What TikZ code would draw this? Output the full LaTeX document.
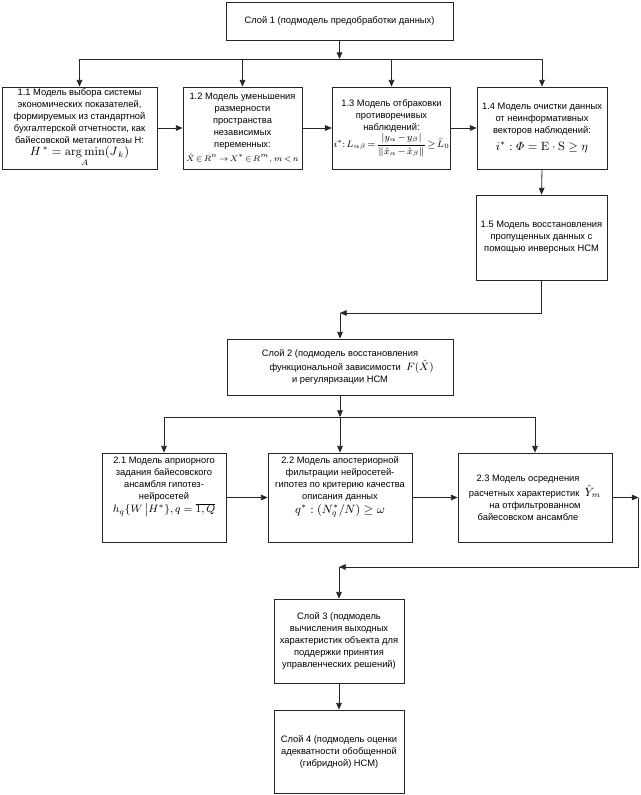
\documentclass[tikz,border=0pt]{standalone}
\usepackage{amsmath}
\usepackage[no-math]{fontspec}
\setmainfont{Liberation Sans}
\usetikzlibrary{arrows.meta}
\tikzset{
  blk/.style={draw=black!85, line width=0.6pt, rectangle, inner sep=1pt, align=center, font=\fontsize{7}{9}\selectfont},
  toptxt/.style={align=center, inner sep=0pt, font=\fontsize{7}{9}\selectfont},
  arr/.style={draw=black!85, line width=0.6pt, -{Triangle[length=5pt,width=4.2pt]}},
  ln/.style={draw=black!85, line width=0.6pt}
}
\newcommand{\fml}[2][8.5]{{\fontsize{#1}{11}\selectfont$#2$}}
\newcommand{\fmltight}[2][7]{{\fontsize{#1}{11}\selectfont\medmuskip=1.5mu\thickmuskip=2mu$#2$}}

\begin{document}
\begin{tikzpicture}[x=0.75pt,y=-0.75pt]
		%%%%% START %%%%%
		\useasboundingbox (0,0) rectangle (640,795);
		
		\node[blk, minimum width=170.25pt, minimum height=28.5pt] (sloi1) at (339.5,21) {Слой 1 (подмодель предобработки данных)};
		
		\node[blk, minimum width=116.25pt, minimum height=61.5pt] (m11) at (79.5,128) {1.1 Модель выбора системы\\экономических показателей,\\формируемых из стандартной\\бухгалтерской отчетности, как\\байесовской метагипотезы Н:\\\fml[9]{H^{\,*}=\mathop{\mathrm{arg\,min}}\limits_{A}(J_{\,k})}};
		\node[blk, minimum width=89.25pt, minimum height=61.5pt] (m12) at (242.5,128) {1.2 Модель уменьшения\\размерности\\пространства\\независимых\\переменных:\\[1pt]\fmltight[6.5]{\hat{X}\in R^{n}\rightarrow X^{*}\in R^{m}, m<n}};
		\node[blk, minimum width=86.25pt, minimum height=61.5pt] (m13) at (391.5,128) {1.3 Модель отбраковки\\противоречивых\\наблюдений:\\\fmltight[7]{i^{*}\!: L_{\alpha\beta}=\dfrac{\left|y_{\alpha}-y_{\beta}\right|}{\left\|\hat{x}_{\alpha}-\hat{x}_{\beta}\right\|}\geq \bar{L}_{0}}};
		\node[blk, minimum width=97.5pt, minimum height=61.5pt] (m14) at (542,128) {1.4 Модель очистки данных\\от неинформативных\\векторов наблюдений:\\[4pt]\fml[9]{i^{*}:\varPhi=\mathrm{E}\cdot\mathrm{S}\geq\eta}};
		\node[blk, minimum width=98.25pt, minimum height=63.75pt] (m15) at (541.5,237.5) {1.5 Модель восстановления\\пропущенных данных с\\помощью инверсных НСМ};
		
		\node[blk, minimum width=169.5pt, minimum height=42pt] (sloi2) at (340,367) {Слой 2 (подмодель восстановления\\\hspace*{2.5em}функциональной зависимости \ \fml{F(\hat{X})}\\и регуляризации НСМ};
		
		\node[blk, minimum width=93pt, minimum height=66.75pt, label={[toptxt, anchor=north, yshift=-3pt]north:{2.1 Модель априорного\\задания байесовского\\ансамбля гипотез-\\нейросетей\\[1pt]\fml[8]{h_{q}\{W\,\big|H^{*}\}, q=\overline{1,Q}}}}] (m21) at (164,497.5) {};
		\node[blk, minimum width=108pt, minimum height=66.75pt, label={[toptxt, anchor=north, yshift=-3pt]north:{2.2 Модель апостериорной\\фильтрации нейросетей-\\гипотез по критерию качества\\описания данных\\[1pt]\fml[9]{q^{*}:(N^{*}_{q}/N)\geq\omega}}}] (m22) at (340,497.5) {};
		\node[blk, minimum width=115.5pt, minimum height=66.75pt] (m23) at (535,497.5) {2.3 Модель осреднения\hspace*{1.5em}\\расчетных характеристик \ \fml[9]{\hat{Y}_{m}}\\на отфильтрованном\hspace*{1.5em}\\байесовском ансамбле\hspace*{1.5em}};
		
		\node[blk, minimum width=97.5pt, minimum height=63pt] (sloi3) at (339,641) {Слой 3 (подмодель\\вычисления выходных\\характеристик объекта для\\поддержки принятия\\управленческих решений)};
		\node[blk, minimum width=97.5pt, minimum height=62.25pt] (sloi4) at (339,751.5) {Слой 4 (подмодель оценки\\адекватности обобщенной\\(гибридной) НСМ)};
		
		% layer 1 bus
		\coordinate (bus1) at (339.5,59);
		\draw[arr] (sloi1.south) -- (bus1);
		\draw[ln] (m11.north |- bus1) -- (m14.north |- bus1);
		\draw[arr] (m11.north |- bus1) -- (m11.north);
		\draw[arr] (m12.north |- bus1) -- (m12.north);
		\draw[arr] (m13.north |- bus1) -- (m13.north);
		\draw[arr] (m14.north |- bus1) -- (m14.north);
		\draw[arr] (m11.east) -- (m12.west);
		\draw[arr] (m12.east) -- (m13.west);
		\draw[arr] (m13.east) -- (m14.west);
		\draw[arr] (m14.south) -- (m15.north);
		
		% back to layer 2
		\coordinate (j2) at (340,313);
		\draw[arr] (m15.south) |- (j2);
		\draw[arr] (j2) -- (sloi2.north);
		
		% layer 2 bus
		\coordinate (bus2) at (340,417);
		\draw[arr] (sloi2.south) -- (bus2);
		\draw[ln] (m21.north |- bus2) -- (m23.north |- bus2);
		\draw[arr] (m21.north |- bus2) -- (m21.north);
		\draw[arr] (m22.north |- bus2) -- (m22.north);
		\draw[arr] (m23.north |- bus2) -- (m23.north);
		\draw[arr] (m21.east) -- (m22.west);
		\draw[arr] (m22.east) -- (m23.west);
		
		% loop to layer 3
		\coordinate (r1) at (638.5,497.5);
		\coordinate (j3) at (339,567);
		\draw[arr] (m23.east) -- (r1);
		\draw[arr] (r1) |- (j3);
		\draw[arr] (j3) -- (sloi3.north);
		\draw[arr] (sloi3.south) -- (sloi4.north);
		%%%%% END %%%%%
\end{tikzpicture}
\end{document}
